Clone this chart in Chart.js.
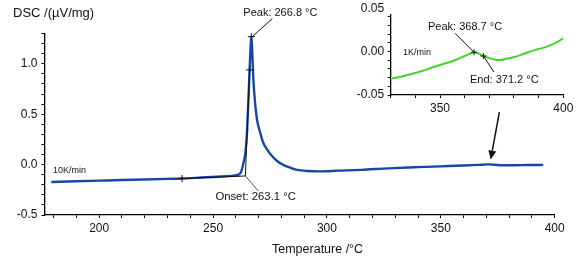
<!DOCTYPE html>
<html>
<head>
<meta charset="utf-8">
<script src="https://cdn.jsdelivr.net/npm/chart.js@4/dist/chart.umd.min.js"></script>
<style>
html,body{margin:0;padding:0;background:#fff;}
#wrap{position:relative;width:581px;height:266px;}
canvas{position:absolute;left:0;top:0;}
</style>
</head>
<body>
<div id="wrap">
<canvas id="main" width="581" height="266"></canvas>
<canvas id="inset" width="581" height="266"></canvas>
</div>
<script>
// ---- Main DSC curve (10 K/min) ----
const temps = [179,190,200,210,220,230,236,245,252,258,260.5,262,262.7,263.5,264.2,264.9,265.5,266.05,266.5,266.8,267.1,267.7,268.5,269.3,270.7,272,273.7,275.5,278.1,281,283.9,287,291.2,297,305,315,327,340,350,360,366,371,376,382,388,395];
const dsc   = [-0.172,-0.165,-0.159,-0.153,-0.148,-0.142,-0.138,-0.128,-0.120,-0.112,-0.105,-0.085,-0.046,0.03,0.118,0.316,0.63,0.94,1.18,1.27,1.18,0.85,0.6,0.447,0.316,0.22,0.151,0.095,0.036,-0.005,-0.03,-0.052,-0.063,-0.067,-0.06,-0.052,-0.037,-0.025,-0.017,-0.009,-0.003,0.002,-0.006,-0.006,-0.004,-0.003];

// ---- Inset curve (1 K/min) ----
const insetTemps = [330.5,334,338,343,347,350,354,357,360,362,363.8,365.5,367.6,370,372,374.3,377,379.7,382.5,385.2,388,390,393.3,396,398,400];
const insetDsc   = [-0.031,-0.029,-0.026,-0.022,-0.018,-0.0153,-0.012,-0.0088,-0.005,-0.0025,-0.0007,-0.002,-0.005,-0.0075,-0.009,-0.0096,-0.008,-0.0065,-0.004,-0.0012,0.0015,0.003,0.0058,0.009,0.012,0.0155];

// ---- Tick labels ----
const mainXLabels = [200,250,300,350,400];
const mainYLabels = [-0.5,0.0,0.5,1.0];
const insetXLabels = [350,400];
const insetYLabels = [-0.05,0.00,0.05];

// ---- Annotation anchors (data units) ----
const mainPeak = [266.8,1.27];
const mainOnset = [264.2,-0.113];
const mainTangentTop = [266.05,0.94];
const mainBaseMark = [236.4,-0.138];
const arrowFrom = [375.7,0.52];
const arrowTo = [371.9,0.05];
const insetPeak = [363.8,-0.0007];
const insetEnd = [367.6,-0.005];

const FONT = "'Liberation Sans', Arial, Helvetica, sans-serif";
const BLUE = '#1646a6';
const GREEN = '#45d42e';

function near(v, arr){ return arr.some(a => Math.abs(a - v) < 1e-6); }
function toXY(arr){ return arr.map((t,i)=>({x:t,y:null})); }

function plus(ctx,x,y,s){
  ctx.beginPath();
  ctx.moveTo(x-s,y);ctx.lineTo(x+s,y);
  ctx.moveTo(x,y-s);ctx.lineTo(x,y+s);
  ctx.stroke();
}
function text(ctx,str,x,y,size){
  ctx.font = size+'px '+FONT;
  ctx.fillStyle='#111';
  ctx.textAlign='left';
  ctx.textBaseline='middle';
  ctx.fillText(str,x,y);
}

const mainPlugin = {
  id:'mainAnno',
  afterDraw(chart){
    const ctx = chart.ctx, xs = chart.scales.x, ys = chart.scales.y;
    const P = p => [xs.getPixelForValue(p[0]), ys.getPixelForValue(p[1])];
    ctx.save();
    ctx.strokeStyle='#111'; ctx.lineWidth=1;
    // baseline extrapolation & tangent
    const b = P(mainBaseMark), o = P(mainOnset), t = P(mainTangentTop), pk = P(mainPeak);
    ctx.beginPath(); ctx.moveTo(b[0],b[1]); ctx.lineTo(o[0],o[1]); ctx.stroke();
    ctx.beginPath(); ctx.moveTo(o[0],o[1]); ctx.lineTo(t[0],t[1]); ctx.stroke();
    plus(ctx,b[0],b[1],3.5);
    plus(ctx,t[0],t[1],3.5);
    plus(ctx,pk[0],pk[1],3.5);
    // leaders
    ctx.strokeStyle='#555';
    ctx.beginPath(); ctx.moveTo(o[0],o[1]); ctx.lineTo(o[0]+13,o[1]+15); ctx.stroke();
    ctx.strokeStyle='#111';
    ctx.beginPath(); ctx.moveTo(pk[0]+1,pk[1]); ctx.lineTo(pk[0]+21,pk[1]-18); ctx.stroke();
    // arrow
    const a1 = P(arrowFrom), a2 = P(arrowTo);
    ctx.lineWidth=1.5;
    const ang = Math.atan2(a2[1]-a1[1], a2[0]-a1[0]);
    const hl=9, hw=4;
    const bx = a2[0]-hl*Math.cos(ang), by = a2[1]-hl*Math.sin(ang);
    ctx.beginPath(); ctx.moveTo(a1[0],a1[1]); ctx.lineTo(bx,by); ctx.stroke();
    ctx.fillStyle='#111';
    ctx.beginPath();
    ctx.moveTo(a2[0],a2[1]);
    ctx.lineTo(bx+hw*Math.sin(ang), by-hw*Math.cos(ang));
    ctx.lineTo(bx-hw*Math.sin(ang), by+hw*Math.cos(ang));
    ctx.closePath(); ctx.fill();
    // texts
    text(ctx,'DSC /(µV/mg)',13,13,13);
    text(ctx,'Temperature /°C',272,250,12.5);
    text(ctx,'Peak: 266.8 °C',pk[0]-8,13,11);
    text(ctx,'Onset: 263.1 °C',o[0]-30,197,11.3);
    text(ctx,'10K/min',53,170.5,9);
    ctx.restore();
  }
};

const insetPlugin = {
  id:'insetAnno',
  afterDraw(chart){
    const ctx = chart.ctx, xs = chart.scales.x, ys = chart.scales.y;
    const P = p => [xs.getPixelForValue(p[0]), ys.getPixelForValue(p[1])];
    ctx.save();
    ctx.strokeStyle='#111'; ctx.lineWidth=1;
    const pk = P(insetPeak), en = P(insetEnd);
    plus(ctx,pk[0],pk[1],3);
    plus(ctx,en[0],en[1],3);
    ctx.beginPath(); ctx.moveTo(pk[0]-19,pk[1]-19); ctx.lineTo(pk[0],pk[1]); ctx.stroke();
    ctx.beginPath(); ctx.moveTo(en[0],en[1]); ctx.lineTo(en[0]+10.5,en[1]+16); ctx.stroke();
    // top tick label (beyond axis end)
    ctx.font='12px '+FONT; ctx.fillStyle='#111'; ctx.textAlign='right'; ctx.textBaseline='middle';
    ctx.fillText('0.05', xs.left-6.5, ys.getPixelForValue(0.05));
    text(ctx,'Peak: 368.7 °C',428,27,11);
    text(ctx,'End: 371.2 °C',470,80,11);
    text(ctx,'1K/min',403,53,9);
    ctx.restore();
  }
};

function axisCommon(){
  return {
    border:{color:'#000',width:1.3},
    grid:{drawOnChartArea:false, drawTicks:true, tickLength:3, color:'#000', tickWidth:1},
  };
}

new Chart(document.getElementById('main'),{
  type:'line',
  data:{ datasets:[{
    data: temps.map((t,i)=>({x:t,y:dsc[i]})),
    borderColor:BLUE, borderWidth:2.4, pointRadius:0, fill:false,
    cubicInterpolationMode:'monotone'
  }]},
  options:{
    responsive:false, animation:false, devicePixelRatio:1,
    layout:{padding:{left:0,right:26.3,top:33.6,bottom:0}, autoPadding:false},
    plugins:{legend:{display:false}, tooltip:{enabled:false}},
    scales:{
      x:Object.assign(axisCommon(),{
        type:'linear', min:176, max:400,
        afterFit:s=>{s.height=51;},
        ticks:{stepSize:10, includeBounds:false, autoSkip:false, maxRotation:0, padding:3, color:'#111',
          font:{family:FONT,size:12},
          callback:v=> near(v,mainXLabels) ? String(Math.round(v)) : ''}
      }),
      y:Object.assign(axisCommon(),{
        type:'linear', min:-0.5, max:1.3,
        afterFit:s=>{s.width=44.5;},
        ticks:{stepSize:0.1, includeBounds:false, autoSkip:false, padding:4, color:'#111',
          font:{family:FONT,size:12},
          callback:v=> near(v,mainYLabels) ? v.toFixed(1) : ''}
      })
    }
  },
  plugins:[mainPlugin]
});

new Chart(document.getElementById('inset'),{
  type:'line',
  data:{ datasets:[{
    data: insetTemps.map((t,i)=>({x:t,y:insetDsc[i]})),
    borderColor:GREEN, borderWidth:2, pointRadius:0, fill:false,
    cubicInterpolationMode:'monotone'
  }]},
  options:{
    responsive:false, animation:false, devicePixelRatio:1,
    layout:{padding:{left:0,right:17.7,top:15,bottom:0}, autoPadding:false},
    plugins:{legend:{display:false}, tooltip:{enabled:false}},
    scales:{
      x:Object.assign(axisCommon(),{
        type:'linear', min:330, max:400,
        afterFit:s=>{s.height=171;},
        ticks:{stepSize:10, includeBounds:false, autoSkip:false, maxRotation:0, padding:3, color:'#111',
          font:{family:FONT,size:12},
          callback:v=> near(v,insetXLabels) ? String(Math.round(v)) : ''}
      }),
      y:Object.assign(axisCommon(),{
        type:'linear', min:-0.05, max:0.0423,
        afterFit:s=>{s.width=390.7;},
        ticks:{stepSize:0.01, includeBounds:false, autoSkip:false, padding:3.5, color:'#111',
          font:{family:FONT,size:12},
          callback:v=> near(v,insetYLabels) ? v.toFixed(2) : ''}
      })
    }
  },
  plugins:[insetPlugin]
});
</script>
</body>
</html>
